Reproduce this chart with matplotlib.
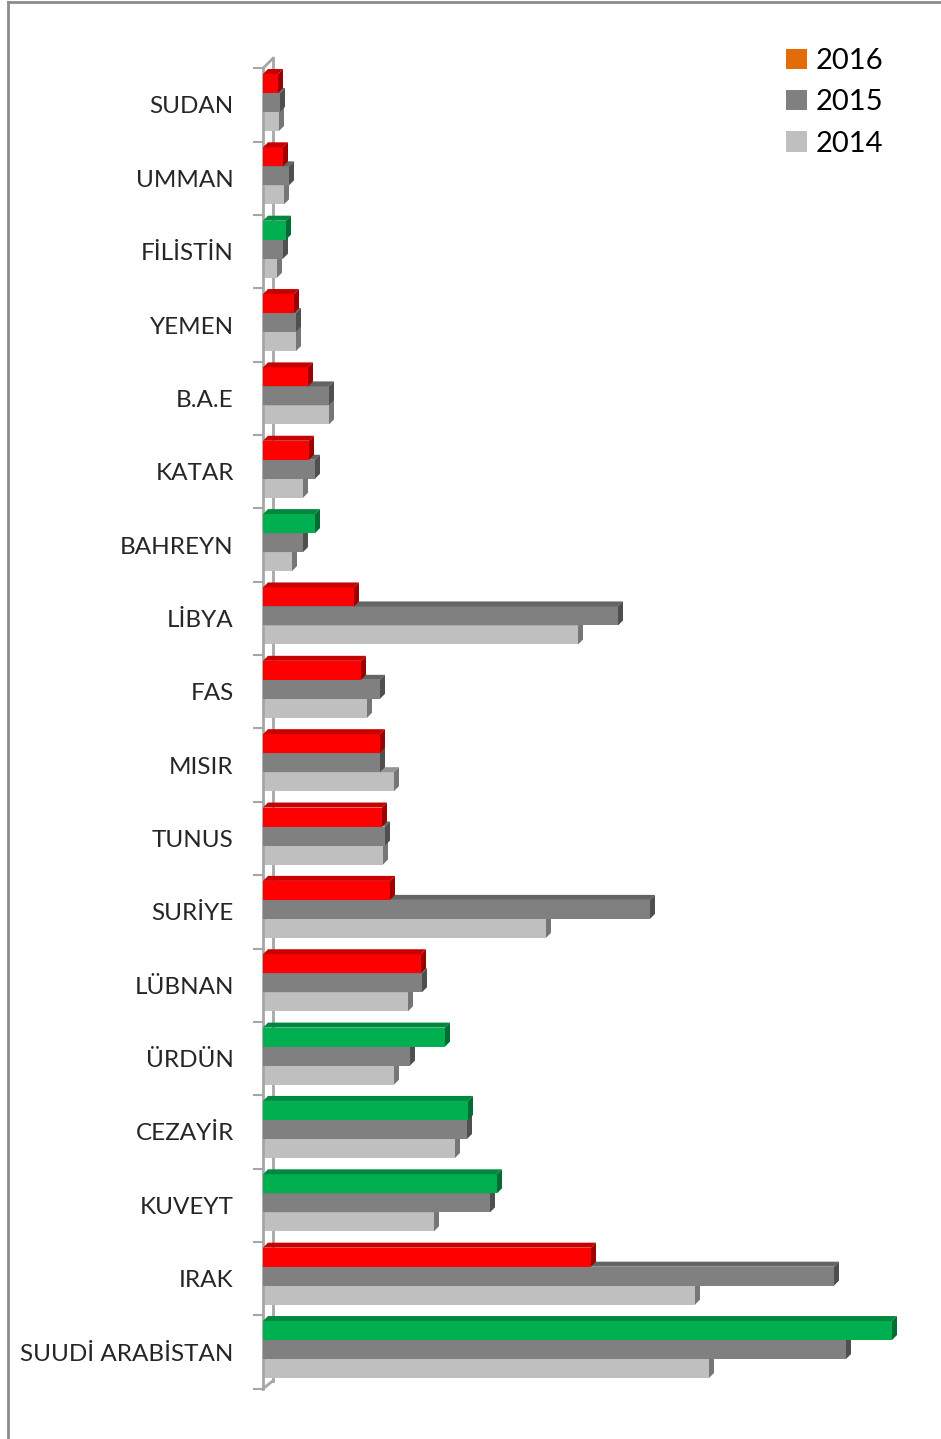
import matplotlib
matplotlib.use("Agg")
import matplotlib.pyplot as plt
from matplotlib.patches import Polygon, Patch
from matplotlib.lines import Line2D

countries = ["SUDAN", "UMMAN", "FİLİSTİN", "YEMEN", "B.A.E", "KATAR", "BAHREYN",
             "LİBYA", "FAS", "MISIR", "TUNUS", "SURİYE", "LÜBNAN", "ÜRDÜN",
             "CEZAYİR", "KUVEYT", "IRAK", "SUUDİ ARABİSTAN"]
v2016 = [15, 20, 23, 31, 45, 46, 52, 91, 98, 117, 119, 127, 158, 182, 205, 234, 328, 629]
v2015 = [17, 26, 20, 33, 66, 52, 40, 355, 117, 117, 122, 387, 159, 147, 204, 227, 571, 583]
v2014 = [16, 21, 14, 33, 66, 40, 29, 315, 104, 131, 120, 283, 145, 131, 192, 171, 432, 446]
years = ["2016", "2015", "2014"]

W, H = 941, 1439
fig = plt.figure(figsize=(W / 100, H / 100), dpi=100)
ax_left, ax_bottom = 263 / W, 1 - 1388.7 / H
ax_top = 1 - 68.3 / H
ax = fig.add_axes([ax_left, ax_bottom, 1 - ax_left, ax_top - ax_bottom])
ax.set_xlim(0, W - 263)
ax.set_ylim(len(countries) - 0.5, -0.5)

cat_px = (1388.7 - 68.3) / len(countries)
h = 19 / cat_px
off = -2.5 / cat_px
ddx = 5.0
ddy = 5.0 / cat_px


def shade(c, f):
    import matplotlib.colors as mc
    r, g, b = mc.to_rgb(c)
    return (r * f, g * f, b * f)


def draw_series(vals, colors, shift, z):
    ys = [i + off + shift for i in range(len(vals))]
    bars = ax.barh(ys, vals, height=h, color=colors, zorder=z, linewidth=0)
    for bar, c in zip(bars, colors):
        x0, y0 = bar.get_x(), bar.get_y()
        w, hh = bar.get_width(), bar.get_height()
        top = y0
        bot = y0 + hh
        x1 = x0 + w
        topface = Polygon([(x0, top), (x1, top), (x1 + ddx, top - ddy), (x0 + ddx, top - ddy)],
                          closed=True, facecolor=shade(c, 0.78), edgecolor="none", zorder=z)
        side = Polygon([(x1, top), (x1 + ddx, top - ddy), (x1 + ddx, bot - ddy), (x1, bot)],
                       closed=True, facecolor=shade(c, 0.62), edgecolor="none", zorder=z)
        ax.add_patch(topface)
        ax.add_patch(side)


c2016 = ["#00B050" if a > b else "#FF0000" for a, b in zip(v2016, v2015)]
draw_series(v2014, ["#BFBFBF"] * len(v2014), h, 2)
draw_series(v2015, ["#808080"] * len(v2015), 0, 3)
draw_series(v2016, c2016, -h, 4)

# 3D wall lines
axis_col = "#A6A6A6"
wx = 10
wy_top = 10 / cat_px
wy_bot = 8 / cat_px
n = len(countries)
ax.plot([wx, wx], [n - 0.5 - wy_bot, -0.5 - wy_top], color=axis_col, lw=2, zorder=1, clip_on=False)
ax.plot([0, wx], [-0.5, -0.5 - wy_top], color=axis_col, lw=2, zorder=1, clip_on=False)
ax.plot([0, wx], [n - 0.5, n - 0.5 - wy_bot], color=axis_col, lw=2, zorder=1, clip_on=False)

for s in ["top", "right", "bottom"]:
    ax.spines[s].set_visible(False)
ax.spines["left"].set_color(axis_col)
ax.spines["left"].set_linewidth(2)
ax.set_xticks([])
ax.set_yticks(range(n))
ax.set_yticklabels(countries, fontsize=17.5, color="#262626", family=["Lato", "DejaVu Sans"])
ax.tick_params(axis="y", which="major", length=0, pad=21)
ax.set_yticks([i - 0.5 for i in range(n + 1)], minor=True)
ax.tick_params(axis="y", which="minor", length=7, width=1.5, color=axis_col)

handles = [Patch(facecolor="#E36C09"), Patch(facecolor="#808080"), Patch(facecolor="#BFBFBF")]
fig.legend(handles, years, loc="upper left", bbox_to_anchor=(760 / W, 1 - 22 / H),
           frameon=False, handlelength=0.7, handleheight=0.7,
           handletextpad=0.3, labelspacing=0.52, prop={"family": ["Lato", "DejaVu Sans"], "size": 21})

# figure border
fig.add_artist(Line2D([8 / W, 8 / W], [0, 1 - 1.5 / H], color="#8C8C8C", lw=2, transform=fig.transFigure))
fig.add_artist(Line2D([8 / W, 1], [1 - 1.5 / H, 1 - 1.5 / H], color="#8C8C8C", lw=2, transform=fig.transFigure))

fig.savefig("out.png", dpi=100)
